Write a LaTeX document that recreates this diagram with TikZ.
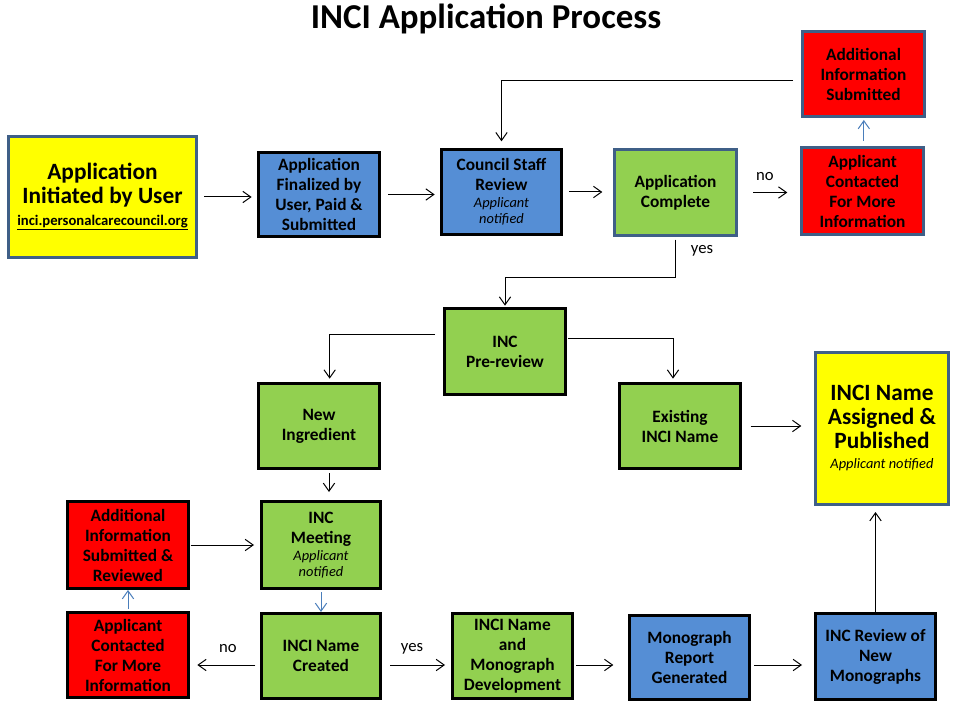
\documentclass[tikz,border=0pt]{standalone}
\usepackage{fontspec}
\setmainfont{Carlito}
\usetikzlibrary{arrows.meta}
\definecolor{yel}{HTML}{FFFF00}
\definecolor{blu}{HTML}{558ED5}
\definecolor{grn}{HTML}{92D050}
\definecolor{rd}{HTML}{FF0000}
\definecolor{slate}{HTML}{3F5F87}
\definecolor{lnblue}{HTML}{4A7EBB}
\newcommand{\boxfont}{\fontsize{13}{15}\selectfont\bfseries}
\newcommand{\bigfont}{\fontsize{17.5}{18}\selectfont\bfseries}
\newcommand{\notefont}{\fontsize{10.8}{12}\selectfont\mdseries\itshape}
\newcommand{\urlfont}{\fontsize{11}{12}\selectfont\bfseries}
\begin{document}
\begin{tikzpicture}[x=0.75pt,y=-0.75pt,
  box/.style={draw, line width=2.25pt, align=center, inner sep=0pt, font=\boxfont},
  blk/.style={box, draw=black},
  sl/.style={box, draw=slate},
  arr/.style={draw=black, line width=0.75pt, -{Straight Barb[length=6pt,width=8.5pt]}},
  barr/.style={draw=lnblue, line width=0.75pt, -{Straight Barb[length=6pt,width=8.5pt]}},
  lbl/.style={font=\fontsize{12.5}{14}\selectfont, inner sep=0pt}
]
\useasboundingbox (0,0) rectangle (958,706);
\fill[white] (0,0) rectangle (958,706);

\node[font=\fontsize{26.2}{30}\selectfont\bfseries, inner sep=0pt] (title) at (486,19) {INCI Application Process};

% top row
\node[sl, fill=yel, minimum width=141pt, minimum height=90.75pt, font=\bigfont] (init) at (102.5,197)
  {Application\\Initiated by User\\[-2pt]{\urlfont\underline{inci.personalcarecouncil.org}}};
\node[blk, fill=blu, minimum width=90.75pt, minimum height=63pt] (final) at (319,194.5)
  {Application\\Finalized by\\User, Paid \&\\Submitted};
\node[blk, fill=blu, minimum width=90pt, minimum height=63.75pt] (staff) at (501.5,192)
  {Council Staff\\Review\\[-2pt]{\notefont Applicant}\\[-3pt]{\notefont notified}};
\node[sl, fill=grn, minimum width=91.5pt, minimum height=64.5pt] (compl) at (675.5,192.5)
  {Application\\Complete};
\node[sl, fill=rd, minimum width=91.5pt, minimum height=65.25pt] (cont1) at (862.5,191)
  {Applicant\\Contacted\\For More\\Information};
\node[sl, fill=rd, minimum width=91.5pt, minimum height=63.75pt] (add1) at (863.5,74)
  {Additional\\Information\\Submitted};

% middle
\node[blk, fill=grn, minimum width=90.75pt, minimum height=64.5pt] (pre) at (505,351.5)
  {INC\\Pre-review};
\node[blk, fill=grn, minimum width=90.75pt, minimum height=63.75pt] (newi) at (319,426)
  {New\\Ingredient};
\node[blk, fill=grn, minimum width=90.75pt, minimum height=63.75pt] (exist) at (680,426)
  {Existing\\INCI Name};
\node[sl, fill=yel, minimum width=99.75pt, minimum height=114pt, font=\bigfont] (assign) at (882,428.5)
  {INCI Name\\Assigned \&\\Published\\[-3pt]{\notefont Applicant notified}};

% lower
\node[blk, fill=rd, minimum width=90.75pt, minimum height=65.25pt] (add2) at (128,545)
  {Additional\\Information\\Submitted \&\\Reviewed};
\node[blk, fill=grn, minimum width=89.25pt, minimum height=65.25pt] (meet) at (321,545)
  {INC\\Meeting\\[-2pt]{\notefont Applicant}\\[-3pt]{\notefont notified}};
\node[blk, fill=rd, minimum width=90.75pt, minimum height=63.75pt] (cont2) at (128,655)
  {Applicant\\Contacted\\For More\\Information};
\node[blk, fill=grn, minimum width=89.25pt, minimum height=63.75pt] (created) at (321,656)
  {INCI Name\\Created};
\node[blk, fill=grn, minimum width=90pt, minimum height=63.75pt] (dev) at (512.5,656)
  {INCI Name\\and\\Monograph\\Development};
\node[blk, fill=blu, minimum width=90pt, minimum height=63pt] (report) at (689.5,657.5)
  {Monograph\\Report\\Generated};
\node[blk, fill=blu, minimum width=90pt, minimum height=64.5pt] (review) at (875.5,656.5)
  {INC Review of\\New\\Monographs};

\coordinate (rowb) at (0,665);

% connectors top row
\draw[arr, shorten <=4.5pt, shorten >=4pt] (init.east) -- (init.east -| final.west);
\draw[arr, shorten <=5.5pt, shorten >=4pt] (final.east) -- (final.east -| staff.west);
\draw[arr, shorten <=4.5pt, shorten >=8pt] (staff.east) -- (staff.east -| compl.west);
\draw[arr, shorten <=11.5pt, shorten >=9.5pt] (compl.east) -- (compl.east -| cont1.west);
\node[lbl] (lno1) at (765,177) {no};
\draw[barr, shorten <=4pt, shorten >=1.5pt] ([xshift=1pt]cont1.north) -- ([xshift=1pt]cont1.north |- add1.south);
\draw[arr, shorten >=5pt] ([xshift=-6pt,yshift=-5.25pt]add1.west) -| (staff.north);
\draw[arr, shorten <=2pt, shorten >=1pt] (compl.south) -- ++(0,41) -| (pre.north);
\node[lbl] (lyes1) at (702,251) {yes};

% middle
\draw[arr, shorten >=2.5pt] ([xshift=-6pt,yshift=12.4pt]pre.west) -| ([xshift=8pt]newi.north);
\draw[arr, shorten >=2.5pt] ([xshift=1pt,yshift=10.1pt]pre.east) -| ([xshift=-5.25pt]exist.north);
\draw[arr, shorten <=6.5pt, shorten >=9.5pt] (exist.east) -- (exist.east -| assign.west);
\draw[arr] ([xshift=7.5pt,yshift=-2.25pt]newi.south) -- ++(0,19);

% lower
\draw[arr, shorten <=0.5pt, shorten >=4.5pt] (add2.east) -- (add2.east -| meet.west);
\draw[barr, shorten <=1.5pt] (meet.south) -- (created.north);
\draw[barr, shorten <=1.5pt] (cont2.north) -- (add2.south);
\draw[arr, shorten <=3.5pt, shorten >=5.5pt] (created.west |- rowb) -- (cont2.east |- rowb);
\node[lbl] (lno2) at (228,649) {no};
\draw[arr, shorten <=6pt, shorten >=4.5pt] (created.east |- rowb) -- (dev.west |- rowb);
\node[lbl] (lyes2) at (412,649) {yes};
\draw[arr, shorten <=1.5pt, shorten >=11pt] (dev.east |- rowb) -- (report.west |- rowb);
\draw[arr, shorten <=2.5pt, shorten >=9pt] (report.east |- rowb) -- (review.west |- rowb);
\draw[arr, shorten <=0pt, shorten >=4.5pt] (review.north) -- (review.north |- assign.south);
\end{tikzpicture}
\end{document}
